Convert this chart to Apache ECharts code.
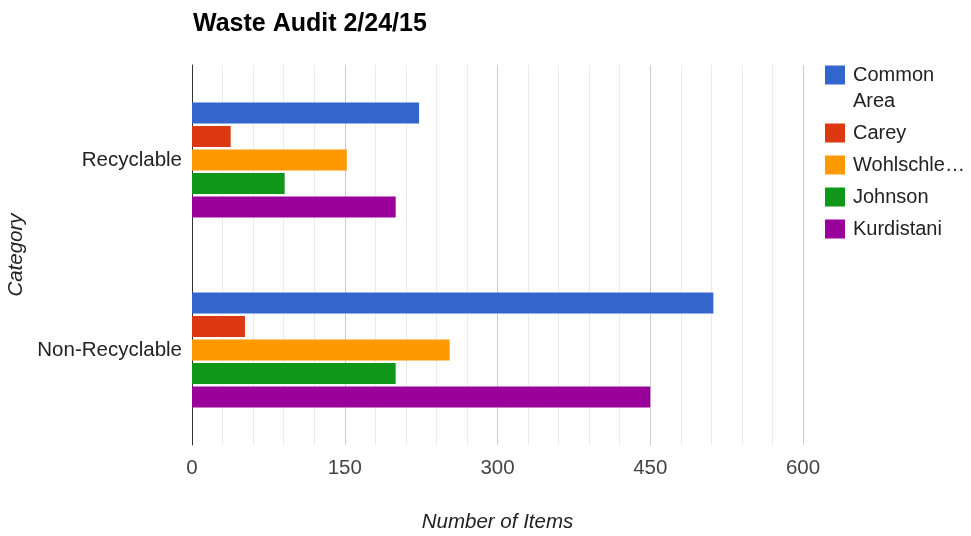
<!DOCTYPE html>
<html>
<head>
<meta charset="utf-8">
<script src="https://cdn.jsdelivr.net/npm/echarts@6/dist/echarts.min.js"></script>
<style>html,body{margin:0;padding:0;background:#fff}#c{width:971px;height:536px}</style>
</head>
<body>
<div id="c"></div>
<script>
const categories = ['Recyclable', 'Non-Recyclable'];
const seriesNames = ['Common Area', 'Carey', 'Wohlschle…', 'Johnson', 'Kurdistani'];
const commonArea = [223, 512];
const carey = [38, 52];
const wohlschle = [152, 253];
const johnson = [91, 200];
const kurdistani = [200, 450];
const xTicks = [0, 150, 300, 450, 600];
const colors = ['#3366cc', '#dc3912', '#ff9900', '#109618', '#990099'];
const values = [commonArea, carey, wohlschle, johnson, kurdistani];

const FONT = 'Liberation Sans, Arial, sans-serif';
const chart = echarts.init(document.getElementById('c'), null, {renderer: 'canvas'});
chart.setOption({
  animation: false,
  color: colors,
  title: {
    text: 'Waste Audit 2/24/15',
    left: 188, top: 7,
    textStyle: {fontFamily: FONT, fontSize: 25, fontWeight: 'bold', color: '#000'}
  },
  grid: {left: 192, right: 168, top: 65, bottom: 91, containLabel: false, outerBoundsMode: 'none'},
  legend: [
    {
      data: [seriesNames[0]],
      orient: 'vertical', left: 825, top: 65, padding: 0,
      icon: 'rect', itemWidth: 20, itemHeight: 19,
      formatter: () => 'Common',
      textStyle: {fontFamily: FONT, fontSize: 20, color: '#222', lineHeight: 20, padding: [0, 0, 0, 3]}
    },
    {
      data: seriesNames.slice(1),
      orient: 'vertical', left: 825, top: 123, itemGap: 12, padding: 0,
      icon: 'rect', itemWidth: 20, itemHeight: 19,
      textStyle: {fontFamily: FONT, fontSize: 20, color: '#222', lineHeight: 20, padding: [0, 0, 0, 3]}
    }
  ],
  graphic: [{
    type: 'text', left: 853, top: 91,
    style: {text: 'Area', font: '20px ' + FONT, fill: '#222'}
  }],
  xAxis: {
    type: 'value', min: xTicks[0], max: xTicks[xTicks.length - 1], interval: 150,
    name: 'Number of Items', nameLocation: 'middle', nameGap: 67,
    nameTextStyle: {fontFamily: FONT, fontSize: 20.5, fontStyle: 'italic', color: '#222'},
    axisLine: {show: false}, axisTick: {show: false},
    axisLabel: {fontFamily: FONT, fontSize: 20.5, color: '#444', margin: 13},
    splitLine: {show: true, lineStyle: {color: '#cccccc', width: 1}},
    minorTick: {show: false, splitNumber: 5},
    minorSplitLine: {show: true, lineStyle: {color: '#ebebeb', width: 1}}
  },
  yAxis: {
    type: 'category', data: categories, inverse: true,
    name: 'Category', nameLocation: 'middle', nameGap: 160, nameRotate: 90,
    nameTextStyle: {fontFamily: FONT, fontSize: 20.5, fontStyle: 'italic', color: '#222'},
    axisLine: {show: true, lineStyle: {color: '#333', width: 1}},
    axisTick: {show: false},
    axisLabel: {fontFamily: FONT, fontSize: 20.5, color: '#222', margin: 10},
    splitLine: {show: false}
  },
  series: seriesNames.map((n, i) => ({
    name: n, type: 'bar', data: values[i],
    barWidth: 21, barGap: '12%',
    itemStyle: {color: colors[i]}
  }))
});
</script>
</body>
</html>
